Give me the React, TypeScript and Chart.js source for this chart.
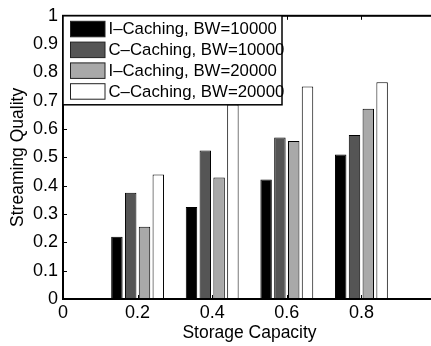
import React, { useEffect, useRef } from "react";
import { Chart, registerables } from "chart.js";

Chart.register(...registerables);

const capacities = [0.2, 0.4, 0.6, 0.8];
const seriesNames = [
  "I\u2013Caching, BW=10000",
  "C\u2013Caching, BW=10000",
  "I\u2013Caching, BW=20000",
  "C\u2013Caching, BW=20000",
];
const iCaching10k = [0.22, 0.325, 0.422, 0.51];
const cCaching10k = [0.375, 0.524, 0.57, 0.579];
const iCaching20k = [0.255, 0.429, 0.558, 0.672];
const cCaching20k = [0.44, 0.687, 0.75, 0.765];
const seriesColors = ["#000000", "#555555", "#a9a9a9", "#ffffff"];
const xTicks = [0, 0.2, 0.4, 0.6, 0.8, 1];
const yTicks = [0, 0.1, 0.2, 0.3, 0.4, 0.5, 0.6, 0.7, 0.8, 0.9, 1];

const seriesValues = [iCaching10k, cCaching10k, iCaching20k, cCaching20k];

const FONT = "'Liberation Sans', Arial, sans-serif";

const framePlugin = {
  id: "frame",
  afterDraw(chart: any) {
    const { ctx, chartArea: a, scales } = chart;
    const xs = scales.x;
    const ys = scales.y;
    ctx.save();
    ctx.strokeStyle = "#000";
    ctx.lineWidth = 1;
    ctx.beginPath();
    xTicks.forEach((t) => {
      const px = Math.round(xs.getPixelForValue(t)) + 0.5;
      ctx.moveTo(px, a.bottom);
      ctx.lineTo(px, a.bottom - 4);
      ctx.moveTo(px, a.top);
      ctx.lineTo(px, a.top + 4);
    });
    yTicks.forEach((t) => {
      const py = Math.round(ys.getPixelForValue(t)) + 0.5;
      ctx.moveTo(a.left, py);
      ctx.lineTo(a.left + 4, py);
      ctx.moveTo(a.right, py);
      ctx.lineTo(a.right - 4, py);
    });
    ctx.stroke();
    ctx.lineWidth = 2;
    ctx.strokeRect(a.left, a.top, a.right - a.left, a.bottom - a.top);

    // legend box
    const lx = a.left;
    const ly = a.top;
    const lw = 219;
    const lh = 89;
    ctx.fillStyle = "#fff";
    ctx.fillRect(lx, ly, lw, lh);
    ctx.lineWidth = 1.5;
    ctx.strokeStyle = "#000";
    ctx.strokeRect(lx, ly, lw, lh);
    ctx.font = `16.8px ${FONT}`;
    ctx.textBaseline = "middle";
    ctx.textAlign = "left";
    chart.data.datasets.forEach((ds: any, i: number) => {
      const sy = ly + 5.5 + i * 20.8;
      ctx.fillStyle = ds.backgroundColor;
      ctx.fillRect(lx + 7.5, sy, 34.5, 15.5);
      ctx.lineWidth = 1;
      ctx.strokeStyle = "#222";
      ctx.strokeRect(lx + 7.5, sy, 34.5, 15.5);
      ctx.fillStyle = "#000";
      ctx.fillText(ds.label, lx + 45.5, sy + 8.5);
    });
    ctx.restore();
  },
};

export default function App() {
  const ref = useRef<HTMLCanvasElement | null>(null);
  useEffect(() => {
    if (!ref.current) return;
    const chart = new Chart(ref.current, {
      type: "bar",
      data: {
        datasets: seriesNames.map((name, i) => ({
          label: name,
          data: capacities.map((c, j) => ({ x: c, y: seriesValues[i][j] })),
          backgroundColor: seriesColors[i],
          borderColor: "#000",
          borderWidth: 1,
          categoryPercentage: 0.74,
          barPercentage: 0.83,
        })),
      },
      plugins: [framePlugin],
      options: {
        animation: false,
        responsive: false,
        layout: { padding: { top: 10, right: 14, left: 0, bottom: 0 } },
        plugins: { legend: { display: false }, tooltip: { enabled: false } },
        scales: {
          x: {
            type: "linear",
            min: 0,
            max: 1,
            offset: false,
            afterBuildTicks: (s: any) => {
              s.ticks = xTicks.map((v) => ({ value: v }));
            },
            afterFit: (s: any) => {
              s.height = 47;
            },
            grid: { display: false, drawTicks: false },
            border: { display: false },
            ticks: {
              padding: 3,
              color: "#000",
              font: { family: FONT, size: 18 },
              callback: (v: any) => String(v),
              maxRotation: 0,
            },
            title: {
              display: true,
              text: "Storage Capacity",
              color: "#000",
              font: { family: FONT, size: 17.5 },
              padding: { top: 0, bottom: 2 },
            },
          },
          y: {
            min: 0,
            max: 1,
            afterBuildTicks: (s: any) => {
              s.ticks = yTicks.map((v) => ({ value: v }));
            },
            afterFit: (s: any) => {
              s.width = 63;
            },
            grid: { display: false, drawTicks: false },
            border: { display: false },
            ticks: {
              padding: 5,
              color: "#000",
              font: { family: FONT, size: 18 },
              callback: (v: any) => String(v),
            },
            title: {
              display: true,
              text: "Streaming Quality",
              color: "#000",
              font: { family: FONT, size: 17.5 },
              padding: { top: 8, bottom: 0 },
            },
          },
        },
      },
    });
    return () => chart.destroy();
  }, []);
  return (
    <div
      style={{
        position: "fixed",
        left: 0,
        top: 0,
        width: 431,
        height: 346,
        overflow: "hidden",
        background: "#fff",
      }}
    >
      <canvas ref={ref} width={450} height={346} style={{ width: 450, height: 346 }} />
    </div>
  );
}
